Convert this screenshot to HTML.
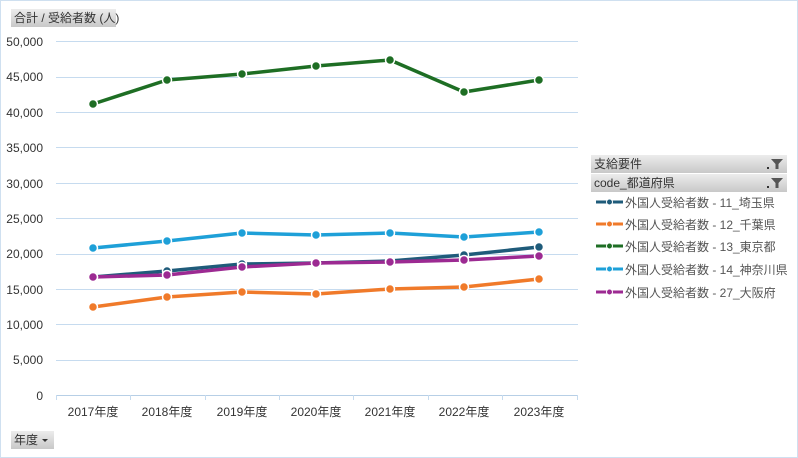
<!DOCTYPE html>
<html><head><meta charset="utf-8"><style>
body{margin:0;background:#fff;}
svg{display:block;font-family:"Liberation Sans","Noto Sans CJK JP",sans-serif;}
</style></head><body>
<svg width="798" height="458" viewBox="0 0 798 458">
<defs>
<linearGradient id="g" x1="0" y1="0" x2="0" y2="1"><stop offset="0" stop-color="#ececec"/><stop offset="1" stop-color="#c8c8c8"/></linearGradient>
</defs>
<rect x="0.5" y="0.5" width="797" height="457" fill="#fff" stroke="#cfe0f0"/>
<rect x="11" y="9" width="105" height="18" fill="url(#g)"/>
<text x="14" y="22" font-size="12" fill="#333">合計 / 受給者数 (人)</text>
<g stroke="#c6dbef" stroke-width="1">
<line x1="56" y1="41.5" x2="578" y2="41.5"/><line x1="56" y1="112.5" x2="578" y2="112.5"/><line x1="56" y1="147.5" x2="578" y2="147.5"/><line x1="56" y1="183.5" x2="578" y2="183.5"/><line x1="56" y1="218.5" x2="578" y2="218.5"/><line x1="56" y1="254.5" x2="578" y2="254.5"/><line x1="56" y1="289.5" x2="578" y2="289.5"/><line x1="56" y1="324.5" x2="578" y2="324.5"/><line x1="56" y1="360.5" x2="578" y2="360.5"/><line x1="56" y1="77.5" x2="578" y2="77.5"/>
<line x1="56" y1="395.5" x2="578" y2="395.5" stroke="#b7cfe6"/>
<line x1="56.5" y1="395" x2="56.5" y2="400"/><line x1="130.5" y1="395" x2="130.5" y2="400"/><line x1="205.5" y1="395" x2="205.5" y2="400"/><line x1="279.5" y1="395" x2="279.5" y2="400"/><line x1="353.5" y1="395" x2="353.5" y2="400"/><line x1="428.5" y1="395" x2="428.5" y2="400"/><line x1="502.5" y1="395" x2="502.5" y2="400"/><line x1="577.5" y1="395" x2="577.5" y2="400"/>
</g>
<g font-size="12" fill="#333" text-anchor="end">
<text x="43" y="46">50,000</text><text x="43" y="81">45,000</text><text x="43" y="117">40,000</text><text x="43" y="152">35,000</text><text x="43" y="188">30,000</text><text x="43" y="223">25,000</text><text x="43" y="258">20,000</text><text x="43" y="294">15,000</text><text x="43" y="329">10,000</text><text x="43" y="364">5,000</text><text x="43" y="400">0</text>
</g>
<g font-size="12" fill="#333" text-anchor="middle">
<text x="93" y="416">2017年度</text><text x="167" y="416">2018年度</text><text x="242" y="416">2019年度</text><text x="316" y="416">2020年度</text><text x="390" y="416">2021年度</text><text x="464" y="416">2022年度</text><text x="539" y="416">2023年度</text>
</g>
<g fill="none" stroke-width="3.5" stroke-linejoin="round">
<polyline stroke="#1e6e24" points="93,104 167,80 242,74 316,66 390,60 464,92 539,80"/>
<polyline stroke="#1ea0d8" points="93,248 167,241 242,233 316,235 390,233 464,237 539,232"/>
<polyline stroke="#1f5b7a" points="93,277 167,271 242,264 316,263 390,261 464,255 539,247"/>
<polyline stroke="#9c2a92" points="93,277 167,275 242,267 316,263 390,262 464,260 539,256"/>
<polyline stroke="#f07a2a" points="93,307 167,297 242,292 316,294 390,289 464,287 539,279"/>
</g>
<g stroke="#fff" stroke-width="1.5">
<g fill="#1e6e24"><circle cx="93" cy="104" r="4.5"/><circle cx="167" cy="80" r="4.5"/><circle cx="242" cy="74" r="4.5"/><circle cx="316" cy="66" r="4.5"/><circle cx="390" cy="60" r="4.5"/><circle cx="464" cy="92" r="4.5"/><circle cx="539" cy="80" r="4.5"/></g>
<g fill="#1ea0d8"><circle cx="93" cy="248" r="4.5"/><circle cx="167" cy="241" r="4.5"/><circle cx="242" cy="233" r="4.5"/><circle cx="316" cy="235" r="4.5"/><circle cx="390" cy="233" r="4.5"/><circle cx="464" cy="237" r="4.5"/><circle cx="539" cy="232" r="4.5"/></g>
<g fill="#1f5b7a"><circle cx="93" cy="277" r="4.5"/><circle cx="167" cy="271" r="4.5"/><circle cx="242" cy="264" r="4.5"/><circle cx="316" cy="263" r="4.5"/><circle cx="390" cy="261" r="4.5"/><circle cx="464" cy="255" r="4.5"/><circle cx="539" cy="247" r="4.5"/></g>
<g fill="#9c2a92"><circle cx="93" cy="277" r="4.5"/><circle cx="167" cy="275" r="4.5"/><circle cx="242" cy="267" r="4.5"/><circle cx="316" cy="263" r="4.5"/><circle cx="390" cy="262" r="4.5"/><circle cx="464" cy="260" r="4.5"/><circle cx="539" cy="256" r="4.5"/></g>
<g fill="#f07a2a"><circle cx="93" cy="307" r="4.5"/><circle cx="167" cy="297" r="4.5"/><circle cx="242" cy="292" r="4.5"/><circle cx="316" cy="294" r="4.5"/><circle cx="390" cy="289" r="4.5"/><circle cx="464" cy="287" r="4.5"/><circle cx="539" cy="279" r="4.5"/></g>
</g>
<rect x="591" y="155" width="196" height="18" fill="url(#g)"/>
<text x="594" y="168" font-size="12" fill="#333">支給要件</text>
<path d="M771 159h12l-4.5 5v5h-3v-5z" fill="#555"/><rect x="767" y="167" width="2" height="2" fill="#333"/>
<rect x="591" y="174" width="196" height="18" fill="url(#g)"/>
<text x="594" y="187" font-size="12" fill="#333">code_都道府県</text>
<path d="M771 178h12l-4.5 5v5h-3v-5z" fill="#555"/><rect x="767" y="186" width="2" height="2" fill="#333"/>
<g font-size="12" fill="#555">
<g stroke-width="3"><line x1="596" y1="202" x2="623" y2="202" stroke="#1f5b7a"/><line x1="596" y1="224" x2="623" y2="224" stroke="#f07a2a"/><line x1="596" y1="246" x2="623" y2="246" stroke="#1e6e24"/><line x1="596" y1="269" x2="623" y2="269" stroke="#1ea0d8"/><line x1="596" y1="292" x2="623" y2="292" stroke="#9c2a92"/></g>
<g stroke="#fff" stroke-width="1"><circle cx="609.5" cy="202" r="3" fill="#1f5b7a"/><circle cx="609.5" cy="224" r="3" fill="#f07a2a"/><circle cx="609.5" cy="246" r="3" fill="#1e6e24"/><circle cx="609.5" cy="269" r="3" fill="#1ea0d8"/><circle cx="609.5" cy="292" r="3" fill="#9c2a92"/></g>
<text x="625" y="207">外国人受給者数 - 11_埼玉県</text>
<text x="625" y="229">外国人受給者数 - 12_千葉県</text>
<text x="625" y="251">外国人受給者数 - 13_東京都</text>
<text x="625" y="274">外国人受給者数 - 14_神奈川県</text>
<text x="625" y="297">外国人受給者数 - 27_大阪府</text>
</g>
<rect x="11" y="431" width="43" height="18" fill="url(#g)"/>
<text x="14" y="444" font-size="12" fill="#333">年度</text>
<path d="M42 439h6l-3 3z" fill="#333"/>
</svg>
</body></html>
